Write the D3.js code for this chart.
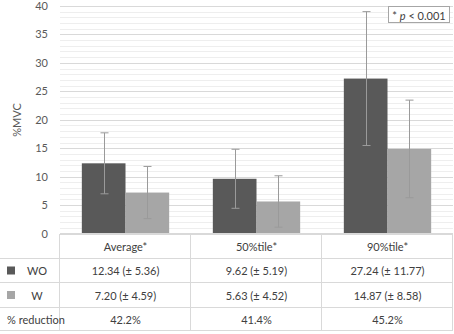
<!DOCTYPE html>
<html><head><meta charset="utf-8">
<script src="https://cdn.jsdelivr.net/npm/d3@7"></script>
<style>body{margin:0;background:#fff}svg{display:block}</style>
</head><body><svg id="c" width="454" height="334"></svg>
<script>
const categories = ["Average*", "50%tile*", "90%tile*"];
const seriesNames = ["WO", "W"];
const woMean = [12.34, 9.62, 27.24];
const woSD = [5.36, 5.19, 11.77];
const wMean = [7.20, 5.63, 14.87];
const wSD = [4.59, 4.52, 8.58];
const woText = ["12.34 (± 5.36)", "9.62 (± 5.19)", "27.24 (± 11.77)"];
const wText = ["7.20 (± 4.59)", "5.63 (± 4.52)", "14.87 (± 8.58)"];
const reduction = ["42.2%", "41.4%", "45.2%"];
const yTicks = [0, 5, 10, 15, 20, 25, 30, 35, 40];
const colors = ["#595959", "#a6a6a6"];

const svg = d3.select("#c");
const font = "Lato, 'Liberation Sans', sans-serif";
const L = 60, R = 453, T = 6, B = 233.5;
const y = d3.scaleLinear().domain([0, 40]).range([B, T]);
const x = d3.scaleBand().domain(categories).range([L, R]).paddingInner(0).paddingOuter(0);
const xs = d3.scaleBand().domain(seriesNames).range([0, x.bandwidth()]).paddingInner(0).paddingOuter(0.5);

svg.append("g").selectAll("line").data(d3.range(0, 41, 1).filter(v => v % 5 !== 0)).join("line")
  .attr("x1", L).attr("x2", R).attr("y1", d => Math.round(y(d)) + 0.5).attr("y2", d => Math.round(y(d)) + 0.5)
  .attr("stroke", "#eeeeee").attr("stroke-width", 1);
svg.append("g").selectAll("line").data(yTicks.slice(1)).join("line")
  .attr("x1", L).attr("x2", R).attr("y1", d => Math.round(y(d)) + 0.5).attr("y2", d => Math.round(y(d)) + 0.5)
  .attr("stroke", "#d9d9d9").attr("stroke-width", 1);

const yAxis = d3.axisLeft(y).tickValues(yTicks).tickSize(0).tickPadding(0);
const ga = svg.append("g").attr("transform", `translate(${L - 12},0)`).call(yAxis);
ga.select(".domain").remove();
ga.selectAll("text").attr("font-family", font).attr("font-size", 11).attr("fill", "#595959");

svg.append("text").attr("transform", "translate(21,120) rotate(-90)").attr("text-anchor", "middle")
  .attr("font-family", font).attr("font-size", 11).attr("fill", "#595959").text("%MVC");

const data = [];
categories.forEach((c, i) => {
  data.push({c, s: "WO", m: woMean[i], sd: woSD[i], col: colors[0]});
  data.push({c, s: "W", m: wMean[i], sd: wSD[i], col: colors[1]});
});
svg.append("g").selectAll("rect").data(data).join("rect")
  .attr("x", d => x(d.c) + xs(d.s)).attr("width", xs.bandwidth())
  .attr("y", d => y(d.m)).attr("height", d => y(0) - y(d.m)).attr("fill", d => d.col);

const eb = svg.append("g").attr("stroke", "#9a9a9a").attr("stroke-width", 1);
data.forEach(d => {
  const cx = Math.round(x(d.c) + xs(d.s) + xs.bandwidth() / 2) + 0.5;
  const y1 = y(d.m + d.sd), y0 = y(d.m - d.sd);
  eb.append("line").attr("x1", cx).attr("x2", cx).attr("y1", y1).attr("y2", y0);
  eb.append("line").attr("x1", cx - 4).attr("x2", cx + 4).attr("y1", y1).attr("y2", y1);
  eb.append("line").attr("x1", cx - 4).attr("x2", cx + 4).attr("y1", y0).attr("y2", y0);
});

const rows = [234, 258, 282, 307, 330];
const tg = svg.append("g").attr("stroke", "#d9d9d9").attr("stroke-width", 1);
rows.forEach((ry, i) => {
  tg.append("line").attr("x1", i === 0 ? L : 0).attr("x2", R).attr("y1", ry + 0.5).attr("y2", ry + 0.5);
});
[L, ...categories.map(c => x(c) + x.bandwidth())].forEach(vx => {
  tg.append("line").attr("x1", Math.round(vx) - 0.5).attr("x2", Math.round(vx) - 0.5).attr("y1", 234).attr("y2", 330.5);
});
svg.append("line").attr("x1", L).attr("x2", R).attr("y1", 233.5).attr("y2", 233.5).attr("stroke", "#d9d9d9");

const txt = (tx, ty, s, anchor = "middle") => svg.append("text").attr("x", tx).attr("y", ty)
  .attr("text-anchor", anchor).attr("dominant-baseline", "central")
  .attr("font-family", font).attr("font-size", 11).attr("fill", "#404040").text(s);

const rowMid = i => (rows[i] + rows[i + 1]) / 2 + 0.5;
categories.forEach((c, i) => {
  const cx = x(c) + x.bandwidth() / 2;
  txt(cx, rowMid(0), c);
  txt(cx, rowMid(1), woText[i]);
  txt(cx, rowMid(2), wText[i]);
  txt(cx, rowMid(3), reduction[i]);
});
seriesNames.forEach((s, i) => {
  svg.append("rect").attr("x", 7).attr("y", rowMid(i + 1) - 4).attr("width", 8).attr("height", 8).attr("fill", colors[i]);
  txt(37, rowMid(i + 1), s);
});
txt(7, rowMid(3), "% reduction", "start");

svg.append("rect").attr("x", 388.5).attr("y", 6.5).attr("width", 61).attr("height", 16)
  .attr("fill", "#fff").attr("stroke", "#a6a6a6");
const pt = svg.append("text").attr("x", 419).attr("y", 15).attr("text-anchor", "middle")
  .attr("dominant-baseline", "central").attr("font-family", font).attr("font-size", 11).attr("fill", "#404040");
pt.append("tspan").text("* ");
pt.append("tspan").attr("font-style", "italic").text("p");
pt.append("tspan").text(" < 0.001");
</script></body></html>
